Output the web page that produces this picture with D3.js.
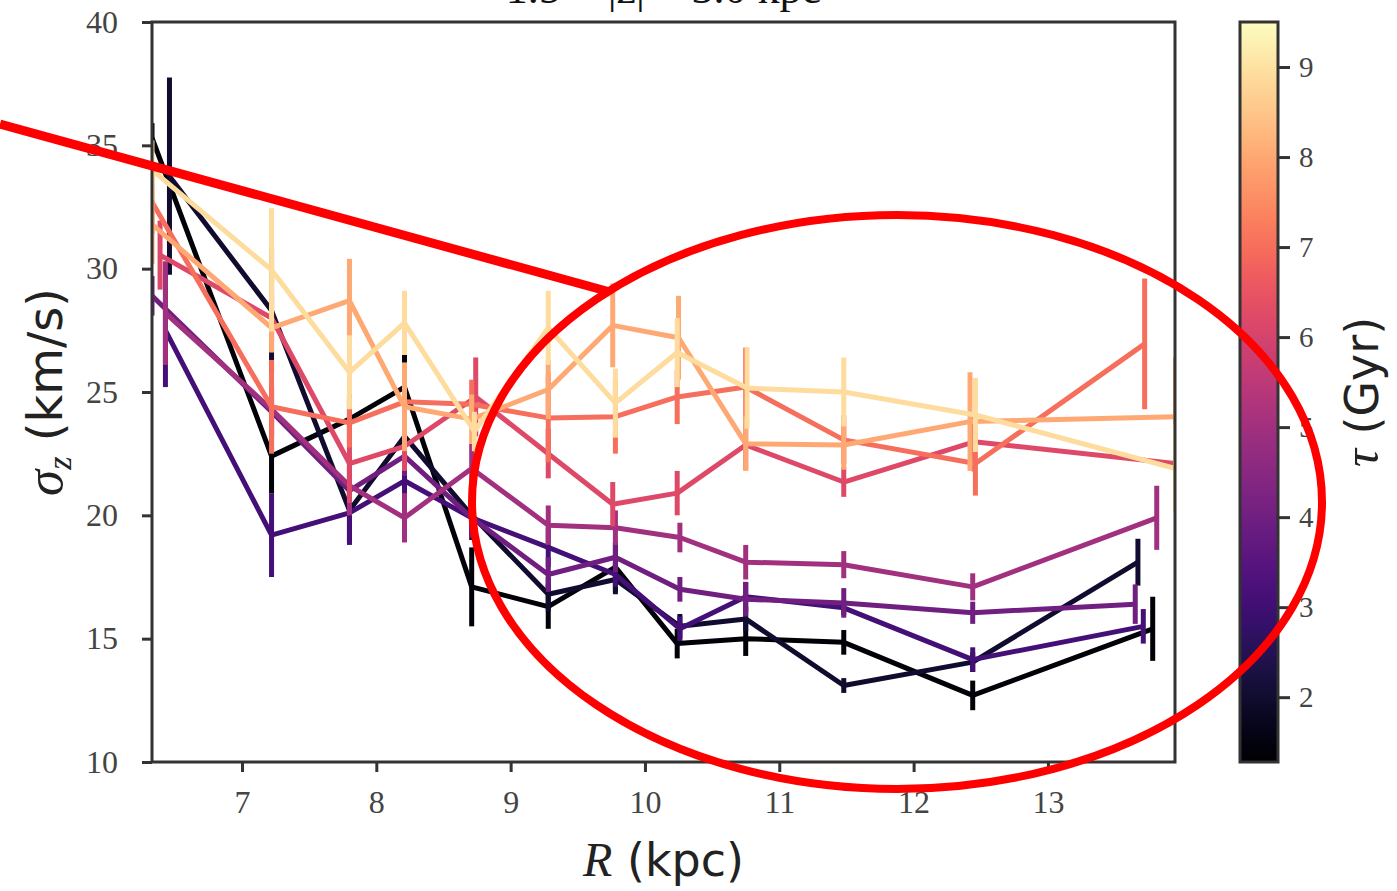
<!DOCTYPE html>
<html><head><meta charset="utf-8">
<script src="https://cdn.jsdelivr.net/npm/d3@7/dist/d3.min.js"></script>
<style>body{margin:0;background:#fff}svg{display:block}</style>
</head><body>
<svg id="c" width="1397" height="891"></svg>
<script>
// ---------- data ----------
const ages = [1.4, 2.0, 3.1, 4.0, 5.0, 6.2, 7.0, 8.0, 8.9];
const R0 = [6.33, 7.22, 7.80, 8.21, 8.71, 9.28, 9.78, 10.24, 10.75, 11.48, 12.44, 13.78];
const v0 = [35.3, 22.4, 23.9, 25.2, 17.1, 16.3, 17.9, 14.8, 15.0, 14.85, 12.7, 15.4];
const e0 = [0.6, 1.5, 1.0, 1.3, 1.6, 0.9, 1.0, 0.6, 0.7, 0.5, 0.6, 1.3];
const R1 = [6.46, 7.22, 7.80, 8.21, 8.71, 9.28, 9.78, 10.26, 10.75, 11.48, 12.44, 13.67];
const v1 = [33.75, 28.3, 20.2, 23.2, 20.0, 16.8, 17.4, 15.5, 15.8, 13.1, 14.05, 18.1];
const e1 = [4.0, 2.5, 1.3, 1.0, 1.0, 0.7, 0.6, 0.5, 0.5, 0.3, 0.4, 0.95];
const R2 = [6.43, 7.22, 7.80, 8.21, 8.71, 9.28, 9.78, 10.26, 10.75, 11.48, 12.44, 13.71];
const v2 = [27.5, 19.2, 20.1, 21.4, 19.9, 18.7, 17.6, 15.4, 16.7, 16.25, 14.15, 15.5];
const e2 = [2.3, 1.7, 1.3, 1.0, 0.8, 0.8, 0.5, 0.5, 0.6, 0.3, 0.5, 0.7];
const R3 = [6.33, 7.22, 7.80, 8.21, 8.71, 9.28, 9.78, 10.26, 10.75, 11.48, 12.44, 13.65];
const v3 = [28.9, 24.2, 21.0, 22.4, 19.9, 17.6, 18.3, 17.0, 16.6, 16.45, 16.05, 16.4];
const e3 = [0.8, 1.0, 1.0, 0.8, 0.8, 0.7, 0.6, 0.5, 0.7, 0.6, 0.45, 0.8];
const R4 = [6.43, 7.22, 7.80, 8.21, 8.71, 9.28, 9.78, 10.26, 10.75, 11.48, 12.44, 13.81];
const v4 = [28.2, 24.3, 21.2, 19.9, 21.9, 19.6, 19.5, 19.1, 18.1, 18.0, 17.1, 19.9];
const e4 = [2.1, 1.0, 1.2, 1.0, 1.0, 0.8, 0.7, 0.6, 0.7, 0.55, 0.55, 1.3];
const R5 = [6.39, 7.22, 7.80, 8.21, 8.74, 9.28, 9.76, 10.24, 10.75, 11.48, 12.45, 13.95];
const v5 = [30.55, 28.0, 22.1, 22.8, 24.8, 22.5, 20.45, 20.9, 22.85, 21.35, 22.98, 22.1];
const e5 = [1.4, 1.0, 1.6, 1.0, 1.6, 1.0, 0.9, 0.9, 1.0, 0.6, 1.2, 0.9];
const R6 = [6.33, 7.22, 7.80, 8.21, 8.71, 9.28, 9.78, 10.24, 10.75, 11.48, 12.46, 13.72];
const v6 = [32.7, 24.4, 23.75, 24.6, 24.5, 23.95, 24.0, 24.8, 25.2, 23.06, 22.1, 26.95];
const e6 = [1.3, 1.9, 1.0, 1.2, 1.0, 1.8, 1.5, 1.1, 1.6, 1.0, 1.3, 2.65];
const R7 = [6.33, 7.22, 7.80, 8.21, 8.71, 9.28, 9.76, 10.25, 10.75, 11.48, 12.42, 13.95];
const v7 = [31.8, 27.6, 28.7, 24.4, 23.9, 25.1, 27.7, 27.2, 22.9, 22.85, 23.8, 24.0];
const e7 = [1.6, 1.0, 1.7, 1.8, 1.0, 1.2, 1.7, 1.7, 1.1, 1.0, 2.0, 2.4];
const R8 = [6.33, 7.22, 7.80, 8.21, 8.73, 9.28, 9.78, 10.24, 10.76, 11.48, 12.46, 13.95];
const v8 = [34.0, 29.95, 25.8, 27.8, 23.4, 27.6, 24.55, 26.6, 25.16, 25.0, 24.07, 21.9];
const e8 = [1.2, 2.5, 1.5, 1.3, 0.8, 1.5, 1.4, 1.4, 1.65, 1.4, 1.5, 1.8];
const xTicks = [7, 8, 9, 10, 11, 12, 13];
const yTicks = [10, 15, 20, 25, 30, 35, 40];
const cbTicks = [2, 3, 4, 5, 6, 7, 8, 9];
const titleText = "1.5 < |z| < 3.0 kpc";

const Rs = [R0, R1, R2, R3, R4, R5, R6, R7, R8];
const Vs = [v0, v1, v2, v3, v4, v5, v6, v7, v8];
const Es = [e0, e1, e2, e3, e4, e5, e6, e7, e8];

// ---------- layout ----------
const svg = d3.select("#c");
const L = 152, Rr = 1175, T = 22, B = 762;
const x = d3.scaleLinear().domain([6.33, 13.946]).range([L, Rr]);
const y = d3.scaleLinear().domain([10, 40]).range([B, T]);
const cmin = 1.28, cmax = 9.5;
const color = t => d3.interpolateMagma((t - cmin) / (cmax - cmin));

svg.append("defs").append("clipPath").attr("id", "clip")
  .append("rect").attr("x", L).attr("y", T).attr("width", Rr - L).attr("height", B - T);

const plot = svg.append("g").attr("clip-path", "url(#clip)");
const line = d3.line().x(d => x(d[0])).y(d => y(d[1]));

ages.forEach((a, i) => {
  const pts = Rs[i].map((r, j) => [r, Vs[i][j], Es[i][j]]);
  const g = plot.append("g");
  const c = color(a);
  g.selectAll("line.err").data(pts).join("line")
    .attr("x1", d => x(d[0])).attr("x2", d => x(d[0]))
    .attr("y1", d => y(d[1] - d[2])).attr("y2", d => y(d[1] + d[2]))
    .attr("stroke", c).attr("stroke-width", 5);
  g.append("path").datum(pts).attr("d", line)
    .attr("fill", "none").attr("stroke", c).attr("stroke-width", 5)
    .attr("stroke-linejoin", "round");
});

// axes
const xAxis = d3.axisBottom(x).tickValues(xTicks).tickSize(10).tickPadding(18).tickFormat(d3.format("d"));
const yAxis = d3.axisLeft(y).tickValues(yTicks).tickSize(10).tickPadding(24).tickFormat(d3.format("d"));
const gx = svg.append("g").attr("transform", `translate(0,${B})`).call(xAxis);
const gy = svg.append("g").attr("transform", `translate(${L},0)`).call(yAxis);
[gx, gy].forEach(g => {
  g.select(".domain").remove();
  g.selectAll(".tick line").attr("stroke", "#333").attr("stroke-width", 3);
  g.selectAll(".tick text").attr("font-family", "'Liberation Serif', serif").attr("font-size", 32)
    .attr("fill", "#444");
});
svg.append("rect").attr("x", L).attr("y", T).attr("width", Rr - L).attr("height", B - T)
  .attr("fill", "none").attr("stroke", "#333").attr("stroke-width", 3);

// title (mostly cut off at top, as in the reference)
svg.append("text").attr("x", (L + Rr) / 2).attr("y", 3).attr("text-anchor", "middle")
  .attr("font-family", "'Liberation Serif', serif").attr("font-size", 44).attr("fill", "#111")
  .text(titleText);

// x label
const xl = svg.append("text").attr("x", (L + Rr) / 2).attr("y", 876).attr("text-anchor", "middle")
  .attr("font-size", 48).attr("fill", "#222");
xl.append("tspan").attr("font-family", "'Liberation Serif', serif").attr("font-style", "italic").text("R");
xl.append("tspan").attr("font-family", "'DejaVu Sans', sans-serif").attr("font-size", 46).text(" (kpc)");

// y label
const yl = svg.append("text").attr("transform", `translate(62,${(T + B) / 2}) rotate(-90)`)
  .attr("text-anchor", "middle").attr("font-size", 53).attr("fill", "#222");
yl.append("tspan").attr("font-family", "'Liberation Serif', serif").attr("font-style", "italic").text("σ");
yl.append("tspan").attr("font-family", "'Liberation Serif', serif").attr("font-style", "italic")
  .attr("font-size", 34).attr("dy", 9).text("z");
yl.append("tspan").attr("font-family", "'DejaVu Sans', sans-serif").attr("font-size", 48).attr("dy", -9).text(" (km/s)");

// colorbar
const cx0 = 1240, cw = 38;
const cy = d3.scaleLinear().domain([cmin, cmax]).range([B, T]);
const grad = svg.select("defs").append("linearGradient").attr("id", "cb")
  .attr("x1", 0).attr("y1", 1).attr("x2", 0).attr("y2", 0);
d3.range(0, 1.0001, 0.02).forEach(t => grad.append("stop").attr("offset", t).attr("stop-color", d3.interpolateMagma(t)));
svg.append("rect").attr("x", cx0).attr("y", T).attr("width", cw).attr("height", B - T)
  .attr("fill", "url(#cb)").attr("stroke", "#333").attr("stroke-width", 3);
const cAxis = d3.axisRight(cy).tickValues(cbTicks).tickSize(12).tickPadding(9).tickFormat(d3.format("d"));
const gc = svg.append("g").attr("transform", `translate(${cx0 + cw},0)`).call(cAxis);
gc.select(".domain").remove();
gc.selectAll(".tick line").attr("stroke", "#333").attr("stroke-width", 3);
gc.selectAll(".tick text").attr("font-family", "'Liberation Serif', serif").attr("font-size", 29).attr("fill", "#444");

const cl = svg.append("text").attr("transform", `translate(1378,${(T + B) / 2}) rotate(-90)`)
  .attr("text-anchor", "middle").attr("font-size", 50).attr("fill", "#222");
cl.append("tspan").attr("font-family", "'Liberation Serif', serif").attr("font-style", "italic").text("τ");
cl.append("tspan").attr("font-family", "'DejaVu Sans', sans-serif").attr("font-size", 46).text(" (Gyr)");

// red annotations
svg.append("line").attr("x1", 0).attr("y1", 124).attr("x2", 610).attr("y2", 292)
  .attr("stroke", "#ff0000").attr("stroke-width", 9);
svg.append("ellipse").attr("cx", 897).attr("cy", 502).attr("rx", 425).attr("ry", 287)
  .attr("fill", "none").attr("stroke", "#ff0000").attr("stroke-width", 8);
</script>
</body></html>
